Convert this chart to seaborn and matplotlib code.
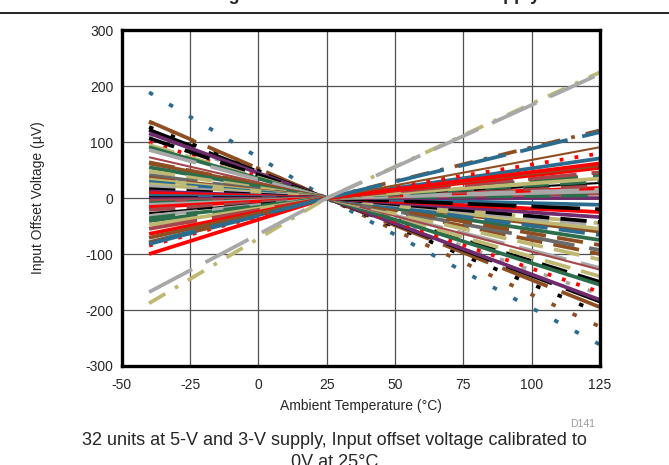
import pandas as pd
import seaborn as sns
import matplotlib.pyplot as plt
from matplotlib.lines import Line2D

# temperatures where each unit was measured (deg C); offset calibrated to 0 at 25 C
temps = [-40, 25, 125]
vos_at_25 = 0

# input offset voltage (uV) at -40 C and at 125 C, one entry per trace
vos_cold = [189, 136, 127, 137, 122, 112, 116, 100, 107, 95, 91, 86, 73, 64, 62, 55, 48,
            41, 36, 33, 29, 25, 21, 16, 12, 9, 4, 0, -2, -5, -9, -12, -16, -21, -27, -32,
            -36, -41, -48, -55, -64, -71, -79, -85, -100, -70, -80, -82, -188, -168]
vos_hot = [-262, -230, -205, -195, -185, -172, -182, -168, -150, -140, -155, -125, -128, -100,
           -60, -75, -110, -93, -84, -55, -66, -45, -48, -43, -34, -25, -12, -20, 0, 8, 5, 12,
           18, 22, 27, 15, 30, 41, 35, 46, 54, 59, 71, 80, 62, 91, 121, 118, 225, 222]
line_colors = ['blue', 'brown', 'black', 'brown', 'black', 'gray', 'purple', 'red', 'black', 'khaki',
               'green', 'gray', 'maroon', 'brown', 'brown', 'green', 'khaki', 'dgray', 'brown', 'khaki',
               'blue', 'khaki', 'gray', 'black', 'purple', 'red', 'blue', 'black', 'purple', 'maroon',
               'green', 'gray', 'red', 'maroon', 'black', 'gray', 'green', 'green', 'khaki', 'maroon',
               'red', 'brown', 'blue', 'red', 'red', 'brown', 'brown', 'blue', 'khaki', 'gray']
line_styles = ['sparse', 'sparse', 'sparse', 'longdash', 'longdash', 'sparse', 'solid', 'dot', 'dash', 'dash',
               'solid', 'longdash', 'solid', 'dash', 'solid', 'solid', 'dash', 'longdash', 'dash', 'solid',
               'dash', 'longdash', 'dash', 'dash', 'solid', 'solid', 'solid', 'longdash', 'solid', 'solid',
               'dash', 'solid', 'solid', 'dash', 'solid', 'longdash', 'dash', 'longdash', 'solid', 'longdash',
               'solid', 'solid', 'solid', 'dot', 'solid', 'solid', 'dashdot', 'longdash', 'dashdot', 'longdash']
line_widths = ['thick'] * 12 + ['thin'] + ['thick'] * 21 + ['thin'] + ['thick'] * 10 + ['thin'] + ['thick'] * 4

palette_names = {'blue': '#2B6C8E', 'brown': '#8E4E22', 'black': '#000000', 'gray': '#A8A8A8',
                 'red': '#FF0000', 'khaki': '#BEB872', 'green': '#2C6E4C', 'purple': '#6E2C6E',
                 'maroon': '#A4464A', 'dgray': '#6A6A6A'}
dash_map = {'solid': '', 'dot': (1, 3), 'sparse': (1.2, 5), 'dash': (7, 3),
            'longdash': (13, 4), 'dashdot': (5, 3, 1, 3)}

rows = []
for i in range(len(vos_cold)):
    unit = 'u%02d' % i
    for t, v in zip(temps, [vos_cold[i], vos_at_25, vos_hot[i]]):
        rows.append({'unit': unit, 'temp': t, 'vos': v,
                     'ls': line_styles[i], 'w': line_widths[i]})
df = pd.DataFrame(rows)
unit_colors = {'u%02d' % i: palette_names[c] for i, c in enumerate(line_colors)}

sns.set_style("white")
plt.rcParams['font.family'] = ['Liberation Sans', 'DejaVu Sans']
plt.rcParams['axes.unicode_minus'] = False

fig = plt.figure(figsize=(6.69, 4.65), dpi=100)
ax = fig.add_axes([0.182, 0.213, 0.715, 0.722])

sns.lineplot(data=df, x='temp', y='vos', hue='unit', palette=unit_colors,
             style='ls', dashes=dash_map, size='w', sizes={'thick': 2.7, 'thin': 1.5},
             estimator=None, sort=False, legend=False, ax=ax)
for ln in ax.get_lines():
    ln.set_dash_capstyle('butt')
    ln.set_solid_capstyle('butt')

ax.set_xlim(-50, 125)
ax.set_ylim(-300, 300)
ax.set_xticks(range(-50, 126, 25))
ax.set_yticks(range(-300, 301, 100))
ax.set_axisbelow(True)
ax.grid(True, color='#505050', lw=0.9)
ax.tick_params(length=0, labelsize=10)
ax.tick_params(axis='x', pad=9)
ax.tick_params(axis='y', pad=6)
for sp in ax.spines.values():
    sp.set_visible(True)
    sp.set_color('black')
    sp.set_linewidth(2.4)
ax.set_xlabel('Ambient Temperature (\u00b0C)', fontsize=10, labelpad=5)
ax.set_ylabel('Input Offset Voltage (\u00b5V)', fontsize=10)
ax.yaxis.set_label_coords(-0.16, 0.5)

# cut-off figure title and rule at the very top
fig.text(0.5, 1.0, 'Offset Voltage Drift at 5-V and 3-V Power Supply', ha='center',
         va='baseline', fontsize=13, fontweight='bold')
fig.add_artist(Line2D([0, 1], [1 - 13 / 465, 1 - 13 / 465], color='black', lw=1.2))

fig.text(583 / 669, 1 - 424 / 465, 'D141', color='#999999', fontsize=7.5, ha='center', va='center')
fig.text(0.5, 1 - 440 / 465, '32 units at 5-V and 3-V supply, Input offset voltage calibrated to',
         ha='center', va='center', fontsize=13)
fig.text(0.5, 1 - 462 / 465, '0V at 25\u00b0C', ha='center', va='center', fontsize=13)

fig.savefig('out.png', dpi=100)
